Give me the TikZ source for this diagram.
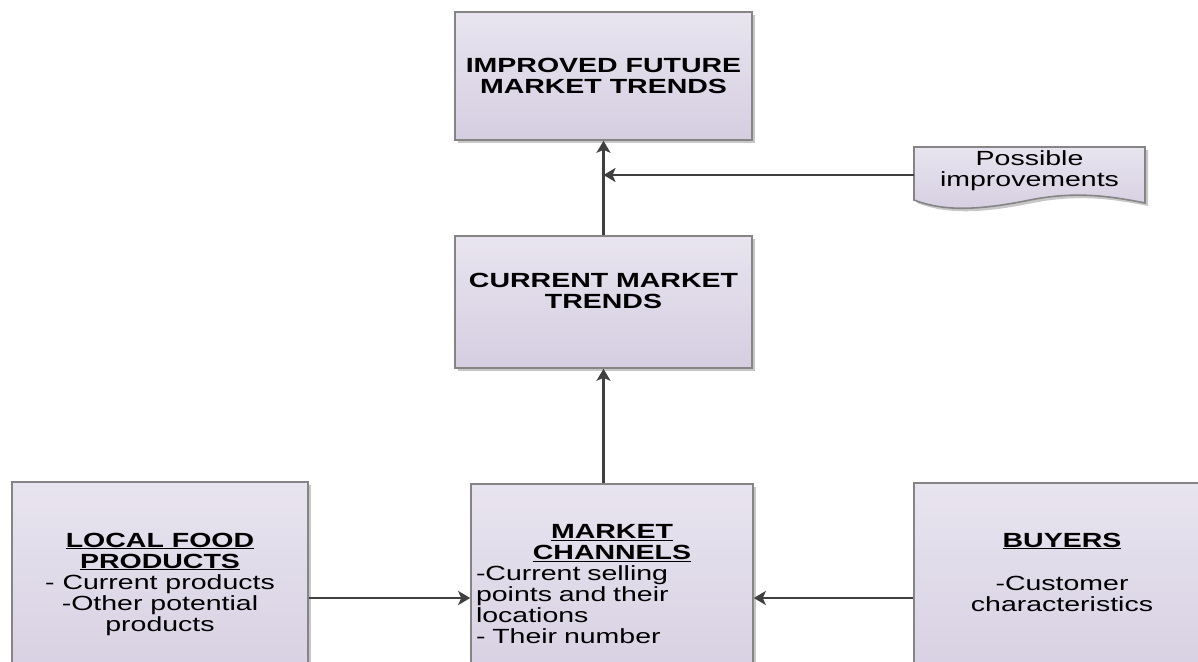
\documentclass[tikz,border=0pt]{standalone}
\usepackage{fontspec}
\setmainfont[FakeStretch=1.39]{Liberation Sans}
\usetikzlibrary{arrows.meta,shadows}
\definecolor{boxtop}{HTML}{E8E4EF}
\definecolor{boxbot}{HTML}{D5CEE1}
\definecolor{edgec}{HTML}{858585}
\definecolor{arrc}{HTML}{404040}
\tikzset{
  box/.style={draw=edgec, line width=1.6pt, top color=boxtop, bottom color=boxbot,
    drop shadow={shadow xshift=3pt, shadow yshift=-3pt, fill=black!22, opacity=1},
    inner sep=0pt, rectangle},
  txt/.style={font=\fontsize{20.5}{21}\selectfont, align=center, inner sep=0pt},
  conn/.style={draw=arrc, line width=2.5pt, -{Stealth[length=12pt,width=14pt,inset=3pt]}}
}
\begin{document}
\begin{tikzpicture}[x=1pt,y=-1pt]
\useasboundingbox (0,0) rectangle (1198,661);
\clip (0,0) rectangle (1198,661);

% boxes
\node[box, minimum width=297pt, minimum height=128pt] (fut) at (603.5,76) {};
\node[box, minimum width=297pt, minimum height=132pt] (cur) at (603.5,302) {};
\node[box, minimum width=296pt, minimum height=218pt] (loc) at (160,591) {};
\node[box, minimum width=282pt, minimum height=216pt] (mkt) at (612,592) {};
\node[box, minimum width=306pt, minimum height=217pt] (buy) at (1067,591.5) {};
% document shape
\path[box] (914,147) -- (1145,147) -- (1145,203)
  .. controls (1110,196) and (1075,191) .. (1030,200)
  .. controls (980,210) and (945,212) .. (914,200) -- cycle;

% texts
\node[txt] (futtxt) at (603.5,76) {\textbf{IMPROVED FUTURE}\\\textbf{MARKET TRENDS}};
\node[txt] (curtxt) at (603.5,290.5) {\textbf{CURRENT MARKET}\\\textbf{TRENDS}};
\node[txt] (imp) at (1029.5,170.5) {Possible\\improvements};
\node[txt] (loctxt) at (160,584) {\textbf{\underline{LOCAL FOOD}}\\\textbf{\underline{PRODUCTS}}\\- Current products\\-Other potential\\products};
\node[txt, text width=272pt, align=left] (mkttxt) at (612,584)
  {{\centering\textbf{\underline{MARKET}}\\\textbf{\underline{CHANNELS}}\par}-Current selling\\points and their\\locations\\- Their number};
\node[txt] (buytxt) at (1062,572)
  {\textbf{\underline{BUYERS}}\\[22pt]-Customer\\characteristics};

% connectors
\coordinate (impL) at (914,175);
\draw[conn] (cur.north) -- (fut.south);
\draw[conn] (impL) -- (impL -| fut.south);
\draw[conn] (cur.south |- mkt.north) -- (cur.south);
\draw[conn] ([yshift=-7pt]loc.east) -- ([yshift=-7pt]loc.east -| mkt.west);
\draw[conn] ([yshift=-6.5pt]buy.west) -- ([yshift=-6.5pt]buy.west -| mkt.east);
\end{tikzpicture}
\end{document}
